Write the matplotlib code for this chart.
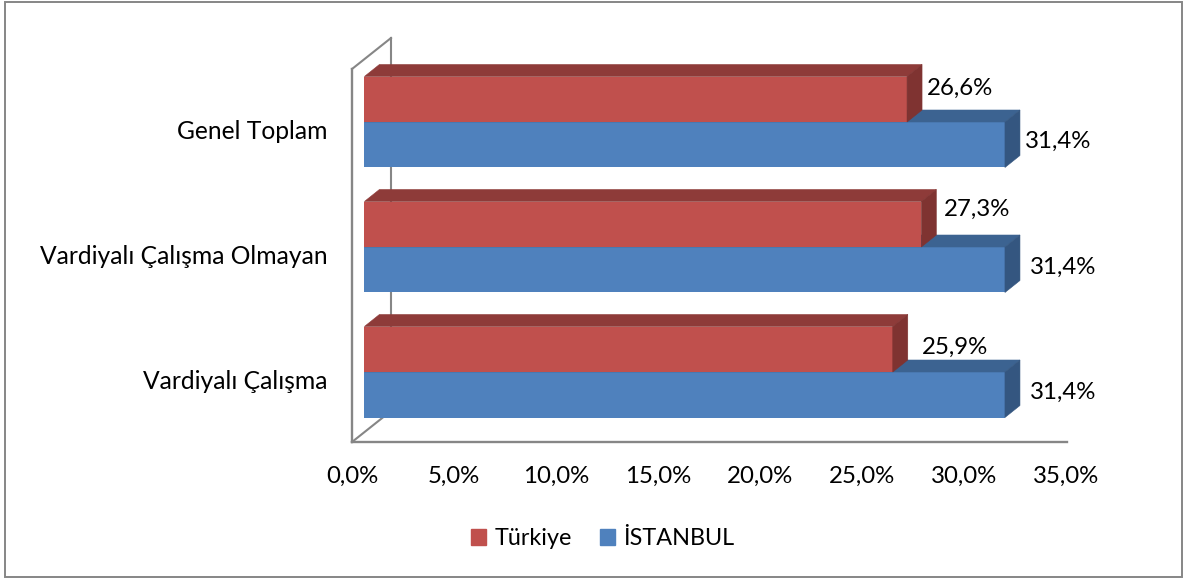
import matplotlib
matplotlib.use("Agg")
import matplotlib.pyplot as plt
from matplotlib.patches import Patch, Polygon, Rectangle

plt.rcParams['font.family'] = ['Lato', 'DejaVu Sans']

categories = ["Vardiyalı Çalışma", "Vardiyalı Çalışma Olmayan", "Genel Toplam"]
turkiye = [25.9, 27.3, 26.6]
istanbul = [31.4, 31.4, 31.4]
turkiye_labels = ["25,9%", "27,3%", "26,6%"]
istanbul_labels = ["31,4%", "31,4%", "31,4%"]
x_ticks = [0, 5, 10, 15, 20, 25, 30, 35]
x_tick_labels = ["0,0%", "5,0%", "10,0%", "15,0%", "20,0%", "25,0%", "30,0%", "35,0%"]

W, H = 1185, 578
PX_X = 102 / 5.0   # pixels per percent
PX_Y = 125.0       # pixels per category

# fake 3d sizes, in pixels
bar_h = 45.5 / PX_Y
dx = 15 / PX_X
dy = 12 / PX_Y
start = 12.4 / PX_X
shift_y = 7.5 / PX_Y
wall_dx = 39 / PX_X
wall_dy = 31 / PX_Y

grey = "#868686"
font_size = 17.3


def draw_bar(ax, y, value, front, top, side):
    x0 = start
    x1 = start + value
    y0 = y - bar_h / 2
    y1 = y + bar_h / 2
    ax.barh(y, value, height=bar_h, left=x0, color=front, zorder=3)
    ax.add_patch(Polygon([(x0, y1), (x0 + dx, y1 + dy), (x1 + dx, y1 + dy), (x1, y1)],
                         color=top, lw=0.4, zorder=3, clip_on=False))
    ax.add_patch(Polygon([(x1, y0), (x1 + dx, y0 + dy), (x1 + dx, y1 + dy), (x1, y1)],
                         color=side, lw=0.4, zorder=3, clip_on=False))


fig = plt.figure(figsize=(W / 100, H / 100), dpi=100)
fig.patch.set_facecolor("white")
fig.add_artist(Rectangle((5 / W, 1 - 576.5 / H), 1177 / W, 575 / H, transform=fig.transFigure,
                         fill=False, edgecolor=grey, lw=1.4))

ax = fig.add_axes([352 / W, 1 - 442 / H, 715 / W, 373 / H])
ax.set_xlim(0, 715 / PX_X)
ax.set_ylim(-0.5, -0.5 + 373 / PX_Y)
ax.patch.set_alpha(0)

# back wall of the 3d frame
ax.plot([wall_dx, wall_dx], [-0.5 + wall_dy, -0.5 + 373 / PX_Y + wall_dy],
        color=grey, lw=1.5, clip_on=False, zorder=1)
ax.plot([0, wall_dx], [-0.5, -0.5 + wall_dy], color=grey, lw=1.5, clip_on=False, zorder=1)
ax.plot([0, wall_dx], [-0.5 + 373 / PX_Y, -0.5 + 373 / PX_Y + wall_dy],
        color=grey, lw=1.5, clip_on=False, zorder=1)

# label nudges in pixels, the labels were moved by hand in the original
red_nudge = [(14, 2), (8, 15), (5, 11)]
blue_nudge = [(10, 2), (10, 2), (5, 3)]

for i in range(len(categories)):
    y_blue = i + shift_y - bar_h / 2
    y_red = y_blue + bar_h
    draw_bar(ax, y_blue, istanbul[i], "#4F81BD", "#3C6391", "#345680")
    draw_bar(ax, y_red, turkiye[i], "#C0504D", "#8E3B39", "#7F3331")
    for value, y, text, nudge in [(turkiye[i], y_red, turkiye_labels[i], red_nudge[i]),
                                  (istanbul[i], y_blue, istanbul_labels[i], blue_nudge[i])]:
        ax.annotate(text, (start + value + dx, y), xytext=(nudge[0] * 0.72, nudge[1] * 0.72),
                    textcoords="offset points", ha="left", va="center",
                    fontsize=font_size, color="black", zorder=5)

ax.set_yticks(range(len(categories)))
ax.set_yticklabels(categories, fontsize=17.7)
ax.set_xticks(x_ticks)
ax.set_xticklabels(x_tick_labels, fontsize=font_size)
ax.tick_params(axis="both", length=0)
ax.tick_params(axis="y", pad=17.5)
ax.tick_params(axis="x", pad=17.5)
for name in ["top", "right"]:
    ax.spines[name].set_visible(False)
for name in ["left", "bottom"]:
    ax.spines[name].set_color(grey)
    ax.spines[name].set_linewidth(1.7)

handles = [Patch(color="#C0504D", label="Türkiye"), Patch(color="#4F81BD", label="İSTANBUL")]
fig.legend(handles=handles, loc="center", bbox_to_anchor=(603 / W, 1 - 538.5 / H), ncol=2, frameon=False,
           fontsize=16.8, handlelength=0.64, handleheight=0.64, handletextpad=0.36,
           columnspacing=1.2)

fig.savefig("out.png", dpi=100)
